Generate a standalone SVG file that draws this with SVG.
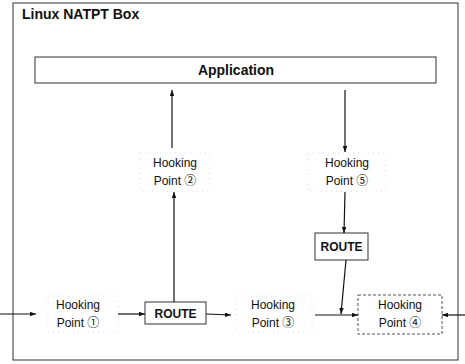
<svg xmlns="http://www.w3.org/2000/svg" width="465" height="364" viewBox="0 0 465 364">
<style>
text{font-family:"Liberation Sans","DejaVu Sans",sans-serif;fill:#111}
.b{font-weight:bold}
.hp{font-size:12px;text-anchor:middle}
.n{font-family:"Noto Sans CJK KR","DejaVu Sans",sans-serif;font-size:12px}
.box{fill:none;stroke:#333;stroke-width:1}
.faint{fill:none;stroke:#ddd;stroke-width:1;stroke-dasharray:1 4}
.dash{fill:none;stroke:#555;stroke-width:1;stroke-dasharray:3 2}
.c line{stroke:#111;stroke-width:1.2;marker-end:url(#a)}
</style>
<defs>
<marker id="a" viewBox="0 0 8 6" refX="8" refY="3" markerWidth="6" markerHeight="4.5" orient="auto" markerUnits="userSpaceOnUse">
<path d="M0,0 L8,3 L0,6 z" fill="#111"/>
</marker>
</defs>
<rect width="465" height="364" fill="#fff"/>
<g id="natpt-box">
<rect class="box" x="13" y="3" width="445" height="357" stroke="#555"/>
<text class="b" x="22" y="19" font-size="14">Linux NATPT Box</text>
</g>
<g id="application">
<rect class="box" x="35" y="57" width="401" height="26"/>
<text class="b" x="236" y="75" font-size="14" text-anchor="middle">Application</text>
</g>
<g id="hp1">
<rect class="faint" x="48" y="296" width="70" height="36"/>
<text class="hp" x="78" y="309">Hooking</text>
<text class="hp" x="78" y="327">Point <tspan class="n">①</tspan></text>
</g>
<g id="hp2">
<rect class="faint" x="140" y="153" width="70" height="38"/>
<text class="hp" x="175" y="167">Hooking</text>
<text class="hp" x="175" y="185">Point <tspan class="n">②</tspan></text>
</g>
<g id="hp3">
<rect class="faint" x="236" y="296" width="76" height="36"/>
<text class="hp" x="273" y="309">Hooking</text>
<text class="hp" x="273" y="327">Point <tspan class="n">③</tspan></text>
</g>
<g id="hp4">
<rect class="dash" x="358" y="295" width="84" height="39"/>
<text class="hp" x="400" y="309">Hooking</text>
<text class="hp" x="400" y="327">Point <tspan class="n">④</tspan></text>
</g>
<g id="hp5">
<rect class="faint" x="308" y="153" width="78" height="38"/>
<text class="hp" x="347" y="167">Hooking</text>
<text class="hp" x="347" y="185">Point <tspan class="n">⑤</tspan></text>
</g>
<g id="route1">
<rect class="box" x="145" y="302" width="61" height="22"/>
<text class="b" x="175.5" y="318" font-size="12" text-anchor="middle">ROUTE</text>
</g>
<g id="route2">
<rect class="box" x="315" y="233" width="53" height="27"/>
<text class="b" x="341.5" y="251" font-size="12" text-anchor="middle">ROUTE</text>
</g>
<g id="connectors" class="c">
<line x1="0" y1="314" x2="36" y2="314"/>
<line x1="118" y1="314" x2="145" y2="314"/>
<line x1="206" y1="314" x2="231" y2="315"/>
<line x1="315" y1="315" x2="358" y2="315"/>
<line x1="465" y1="315" x2="442" y2="315"/>
<line x1="174" y1="302" x2="174" y2="192"/>
<line x1="172" y1="148" x2="172" y2="90"/>
<line x1="345" y1="90" x2="345" y2="152"/>
<line x1="345" y1="192" x2="344" y2="233"/>
<line x1="346" y1="260" x2="341" y2="314"/>
</g>
</svg>
